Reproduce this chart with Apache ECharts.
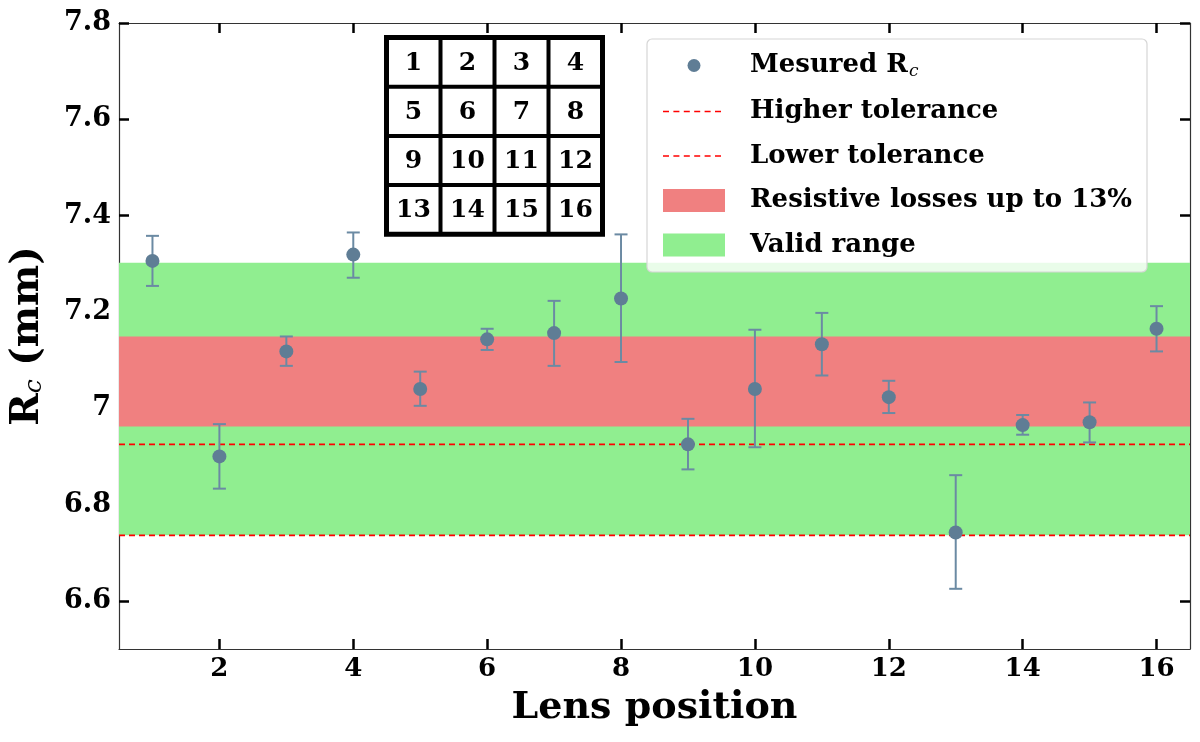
<!DOCTYPE html>
<html>
<head>
<meta charset="utf-8">
<script src="https://cdn.jsdelivr.net/npm/echarts@6/dist/echarts.min.js"></script>
<style>html,body{margin:0;padding:0;background:#fff}#c{width:1200px;height:742px}</style>
</head>
<body>
<div id="c"></div>
<script>
// ---- data ----
const lensPos   = [1, 2, 3, 4, 5, 6, 7, 8, 9, 10, 11, 12, 13, 14, 15, 16];
const rcValues  = [7.306, 6.900, 7.118, 7.319, 7.040, 7.143, 7.156, 7.228, 6.925, 7.040, 7.133, 7.023, 6.742, 6.965, 6.971, 7.165];
const errLow    = [7.254, 6.833, 7.088, 7.271, 7.005, 7.121, 7.088, 7.096, 6.873, 6.919, 7.068, 6.990, 6.625, 6.945, 6.929, 7.118];
const errHigh   = [7.358, 6.967, 7.149, 7.365, 7.076, 7.165, 7.223, 7.361, 6.978, 7.163, 7.198, 7.057, 6.861, 6.986, 7.012, 7.212];
const validRange     = [6.736, 7.302];
const resistiveRange = [6.962, 7.149];
const higherTol = 6.925;
const lowerTol  = 6.736;
const xRange = [0.5, 16.5];
const yRange = [6.5, 7.8];
const xTicks = [2, 4, 6, 8, 10, 12, 14, 16];
const yTicks = [6.6, 6.8, 7.0, 7.2, 7.4, 7.6, 7.8];
const insetLabels = ['1','2','3','4','5','6','7','8','9','10','11','12','13','14','15','16'];

const SERIF = "'DejaVu Serif', 'Liberation Serif', serif";
const markerColor = '#5f7d95';
const errColor = '#6b8aa3';

const chart = echarts.init(document.getElementById('c'));

const tickStyle = {show: true, inside: true, length: 10, lineStyle: {color: '#000', width: 2.5}};
const axisLineStyle = {show: true, lineStyle: {color: '#333', width: 1.2}};

function svgIcon(body) {
  return 'image://data:image/svg+xml;charset=utf-8,' + encodeURIComponent(
    '<svg xmlns="http://www.w3.org/2000/svg" width="62" height="23" viewBox="0 0 62 23">' + body + '</svg>');
}
const dotIcon = svgIcon('<circle cx="31" cy="11.5" r="6.5" fill="' + markerColor + '"/>');
const dashIcon = svgIcon('<line x1="0" y1="11.5" x2="62" y2="11.5" stroke="#ff0000" stroke-width="1.6" stroke-dasharray="6,4.4"/>');

// inset grid graphic
const cellW = 54, cellH = 49.2, gx = 384, gy = 35;
const insetChildren = [{type: 'rect', shape: {x: 0, y: 0, width: cellW * 4, height: cellH * 4}, style: {fill: '#fff', stroke: '#000', lineWidth: 5}}];
for (let i = 1; i < 4; i++) {
  insetChildren.push({type: 'line', shape: {x1: i * cellW, y1: 0, x2: i * cellW, y2: cellH * 4}, style: {stroke: '#000', lineWidth: 4}});
  insetChildren.push({type: 'line', shape: {x1: 0, y1: i * cellH, x2: cellW * 4, y2: i * cellH}, style: {stroke: '#000', lineWidth: 4}});
}
insetLabels.forEach((t, k) => {
  const r = Math.floor(k / 4), c = k % 4;
  insetChildren.push({type: 'text', x: c * cellW + cellW / 2, y: r * cellH + cellH / 2 + 1,
    style: {text: t, font: 'bold 25px ' + SERIF, fill: '#000', align: 'center', verticalAlign: 'middle'}});
});

const legendText = {
  fontFamily: SERIF, fontWeight: 'bold', fontSize: 26, color: '#000', padding: [0, 0, 0, 20], lineHeight: 23,
  rich: {
    sub: {fontFamily: SERIF, fontStyle: 'italic', fontWeight: 'normal', fontSize: 17, padding: [12, 0, 0, 1]}
  }
};

const option = {
  animation: false,
  backgroundColor: '#fff',
  grid: {left: 118.5, right: 10, top: 23, bottom: 93, containLabel: false},
  xAxis: [
    {type: 'value', min: xRange[0], max: xRange[1], position: 'bottom',
      name: 'Lens position', nameLocation: 'middle', nameGap: 40,
      nameTextStyle: {fontFamily: SERIF, fontWeight: 'bold', fontSize: 38, color: '#000'},
      axisLine: axisLineStyle, axisTick: Object.assign({customValues: xTicks}, tickStyle),
      axisLabel: {customValues: xTicks, fontFamily: SERIF, fontWeight: 'bold', fontSize: 26, color: '#000', margin: 7},
      splitLine: {show: false}},
    {type: 'value', min: xRange[0], max: xRange[1], position: 'top',
      axisLine: axisLineStyle, axisTick: Object.assign({customValues: xTicks}, tickStyle),
      axisLabel: {show: false}, splitLine: {show: false}}
  ],
  yAxis: [
    {type: 'value', min: yRange[0], max: yRange[1], position: 'left',
      name: '{b|R}{s|c}{b| (mm)}', nameLocation: 'middle', nameGap: 72, nameRotate: 90,
      nameTextStyle: {rich: {
        b: {fontFamily: SERIF, fontWeight: 'bold', fontSize: 39, color: '#000'},
        s: {fontFamily: SERIF, fontStyle: 'italic', fontSize: 25, color: '#000', padding: [14, 0, 0, 0]}
      }},
      axisLine: axisLineStyle, axisTick: Object.assign({customValues: yTicks}, tickStyle),
      axisLabel: {customValues: yTicks, fontFamily: SERIF, fontWeight: 'bold', fontSize: 27, color: '#000', margin: 8,
        formatter: v => (Math.abs(v - 7) < 1e-9 ? '7' : v.toFixed(1))},
      splitLine: {show: false}},
    {type: 'value', min: yRange[0], max: yRange[1], position: 'right',
      axisLine: axisLineStyle, axisTick: Object.assign({customValues: yTicks}, tickStyle),
      axisLabel: {show: false}, splitLine: {show: false}}
  ],
  legend: [
    {orient: 'vertical', left: 658, top: 47.5, itemWidth: 62, itemHeight: 23, itemGap: 18.5, z: 60,
      data: [
        {name: 'Mesured Rc', icon: dotIcon},
        {name: 'Higher tolerance', icon: dashIcon},
        {name: 'Lower tolerance', icon: dashIcon},
        {name: 'Resistive losses up to 13%', icon: 'rect'},
        {name: 'Valid range', icon: 'rect'}
      ],
      textStyle: legendText,
      formatter: n => (n === 'Mesured Rc' ? 'Mesured R{sub|c}' : n)}
  ],
  graphic: [
    {type: 'rect', z: 50, shape: {x: 647, y: 39, width: 500, height: 233, r: 5},
      style: {fill: 'rgba(255,255,255,0.8)', stroke: '#d6d6d6', lineWidth: 1.2}},
    {type: 'group', left: gx, top: gy, z: 50, children: insetChildren}
  ],
  series: [
    {name: 'Valid range', type: 'line', data: [], z: 1,
      itemStyle: {color: '#90ee90'}, lineStyle: {color: '#90ee90'},
      markArea: {silent: true, itemStyle: {color: '#90ee90'},
        data: [[{yAxis: validRange[0]}, {yAxis: validRange[1]}]]}},
    {name: 'Resistive losses up to 13%', type: 'line', data: [], z: 1,
      itemStyle: {color: '#f08080'}, lineStyle: {color: '#f08080'},
      markArea: {silent: true, itemStyle: {color: '#f08080'},
        data: [[{yAxis: resistiveRange[0]}, {yAxis: resistiveRange[1]}]]}},
    {name: 'Higher tolerance', type: 'line', z: 2, symbol: 'none', silent: true,
      data: [[xRange[0], higherTol], [xRange[1], higherTol]],
      itemStyle: {color: '#ff0000'},
      lineStyle: {color: '#ff0000', width: 1.6, type: [6, 4]}},
    {name: 'Lower tolerance', type: 'line', z: 2, symbol: 'none', silent: true,
      data: [[xRange[0], lowerTol], [xRange[1], lowerTol]],
      itemStyle: {color: '#ff0000'},
      lineStyle: {color: '#ff0000', width: 1.6, type: [6, 4]}},
    {name: 'errorbars', type: 'custom', z: 3, silent: true,
      data: lensPos.map((x, i) => [x, errLow[i], errHigh[i]]),
      encode: {x: 0, y: [1, 2]},
      renderItem: function (params, api) {
        const x = api.value(0);
        const lo = api.coord([x, api.value(1)]);
        const hi = api.coord([x, api.value(2)]);
        const w = 6.5;
        const st = {stroke: errColor, lineWidth: 2};
        return {type: 'group', children: [
          {type: 'line', shape: {x1: lo[0], y1: lo[1], x2: hi[0], y2: hi[1]}, style: st},
          {type: 'line', shape: {x1: lo[0] - w, y1: lo[1], x2: lo[0] + w, y2: lo[1]}, style: st},
          {type: 'line', shape: {x1: hi[0] - w, y1: hi[1], x2: hi[0] + w, y2: hi[1]}, style: st}
        ]};
      }},
    {name: 'Mesured Rc', type: 'scatter', z: 5, symbol: 'circle', symbolSize: 14,
      data: lensPos.map((x, i) => [x, rcValues[i]]),
      itemStyle: {color: markerColor, opacity: 1}}
  ]
};
chart.setOption(option);
</script>
</body>
</html>
